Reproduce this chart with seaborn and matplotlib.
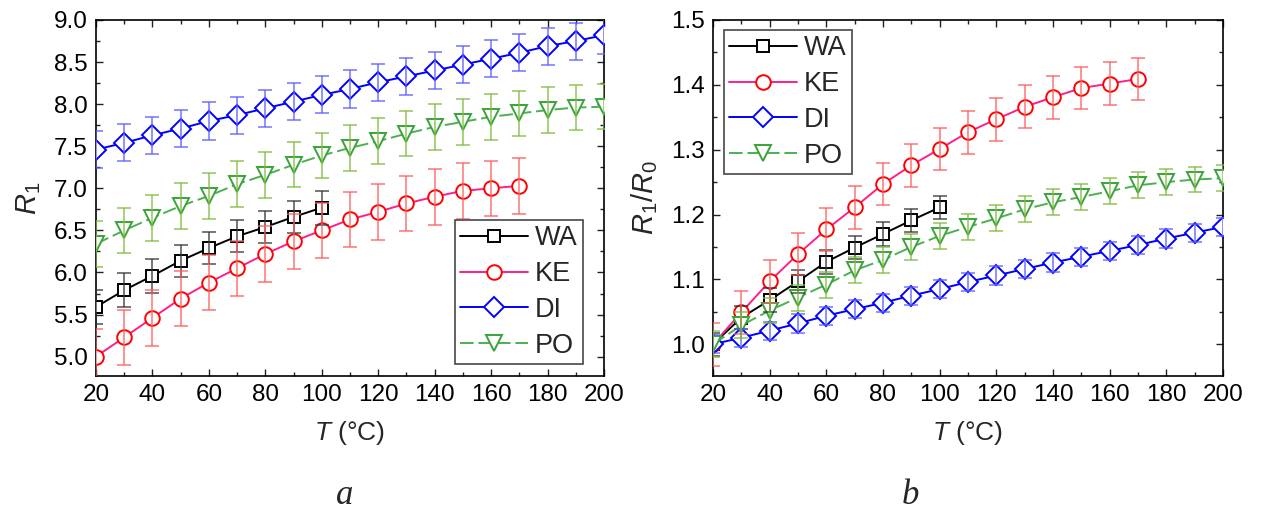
import numpy as np
import pandas as pd
import matplotlib
matplotlib.use("Agg")
import matplotlib.pyplot as plt
from matplotlib.ticker import MultipleLocator, FormatStrFormatter
import seaborn as sns

# ---------------- data ----------------
T_WA = [20, 30, 40, 50, 60, 70, 80, 90, 100]
T_KE = [20, 30, 40, 50, 60, 70, 80, 90, 100, 110, 120, 130, 140, 150, 160, 170]
T_DI = [20, 30, 40, 50, 60, 70, 80, 90, 100, 110, 120, 130, 140, 150, 160, 170, 180, 190, 200]
T_PO = [20, 30, 40, 50, 60, 70, 80, 90, 100, 110, 120, 130, 140, 150, 160, 170, 180, 190, 200]

# panel a: R1
R1_WA = [5.59, 5.79, 5.96, 6.14, 6.29, 6.43, 6.54, 6.66, 6.77]
R1_KE = [5.00, 5.23, 5.46, 5.69, 5.88, 6.05, 6.22, 6.37, 6.50, 6.63, 6.72, 6.82, 6.90, 6.97, 7.00, 7.03]
R1_DI = [7.46, 7.54, 7.63, 7.71, 7.80, 7.87, 7.95, 8.03, 8.11, 8.18, 8.26, 8.33, 8.40, 8.47, 8.54, 8.61, 8.69, 8.75, 8.82]
R1_PO = [6.34, 6.50, 6.65, 6.79, 6.91, 7.05, 7.16, 7.28, 7.39, 7.48, 7.56, 7.65, 7.73, 7.79, 7.85, 7.89, 7.93, 7.96, 7.97]
E1_WA = [0.20, 0.20, 0.20, 0.19, 0.19, 0.19, 0.19, 0.19, 0.20]
E1_KE = [0.33, 0.33, 0.33, 0.33, 0.33, 0.33, 0.33, 0.33, 0.33, 0.33, 0.33, 0.33, 0.33, 0.33, 0.33, 0.33]
E1_DI = [0.22, 0.22, 0.22, 0.22, 0.22, 0.22, 0.22, 0.22, 0.22, 0.22, 0.22, 0.22, 0.22, 0.22, 0.22, 0.22, 0.22, 0.22, 0.22]
E1_PO = [0.27, 0.27, 0.27, 0.27, 0.27, 0.27, 0.27, 0.27, 0.27, 0.27, 0.27, 0.27, 0.27, 0.27, 0.27, 0.27, 0.27, 0.27, 0.27]

# panel b: R1/R0
RR_WA = [1.000, 1.041, 1.068, 1.097, 1.127, 1.149, 1.170, 1.191, 1.211]
RR_KE = [1.000, 1.049, 1.097, 1.139, 1.177, 1.211, 1.247, 1.276, 1.301, 1.327, 1.347, 1.366, 1.381, 1.395, 1.402, 1.409]
RR_DI = [1.000, 1.010, 1.021, 1.032, 1.044, 1.054, 1.064, 1.075, 1.085, 1.096, 1.106, 1.116, 1.126, 1.135, 1.144, 1.153, 1.163, 1.172, 1.181]
RR_PO = [1.000, 1.029, 1.052, 1.072, 1.092, 1.114, 1.130, 1.150, 1.167, 1.181, 1.194, 1.208, 1.219, 1.227, 1.236, 1.245, 1.250, 1.254, 1.256]
E2_WA = [0.018, 0.018, 0.018, 0.018, 0.018, 0.018, 0.018, 0.018, 0.018]
E2_KE = [0.033, 0.033, 0.033, 0.033, 0.033, 0.033, 0.033, 0.033, 0.033, 0.033, 0.033, 0.033, 0.033, 0.033, 0.033, 0.033]
E2_DI = [0.014, 0.014, 0.014, 0.014, 0.014, 0.014, 0.014, 0.014, 0.014, 0.014, 0.014, 0.014, 0.014, 0.014, 0.014, 0.014, 0.014, 0.014, 0.014]
E2_PO = [0.020, 0.020, 0.020, 0.020, 0.020, 0.020, 0.020, 0.020, 0.020, 0.020, 0.020, 0.020, 0.020, 0.020, 0.020, 0.020, 0.020, 0.020, 0.020]

labels = ["WA", "KE", "DI", "PO"]
x_ticks = [20, 40, 60, 80, 100, 120, 140, 160, 180, 200]

# ---------------- style ----------------
sns.set_theme(style="ticks")
plt.rcParams["font.family"] = ["Liberation Sans", "DejaVu Sans"]
plt.rcParams["mathtext.fontset"] = "custom"
plt.rcParams["mathtext.rm"] = "Liberation Sans"
plt.rcParams["mathtext.it"] = "Liberation Sans:italic"
plt.rcParams["mathtext.bf"] = "Liberation Sans:bold"

styles = {
    "WA": dict(line="#000000", edge="#000000", err="#333333", marker="s", ms=9, ls="-"),
    "KE": dict(line="#ff1f8a", edge="#ff0000", err="#ff5c5c", marker="o", ms=10.5, ls="-"),
    "DI": dict(line="#0000ff", edge="#0000ff", err="#5c5cff", marker="D", ms=9.8, ls="-"),
    "PO": dict(line="#4cb050", edge="#3aa33a", err="#7dbb3c", marker="v", ms=11.5, ls=(0, (7, 2.5))),
}

fig = plt.figure(figsize=(12.65, 5.13), dpi=100)
axA = fig.add_axes([96 / 1265, 1 - 376 / 513, 508 / 1265, 356 / 513])
axB = fig.add_axes([713 / 1265, 1 - 376 / 513, 510 / 1265, 356 / 513])


def draw(ax, series):
    for name, (xs, ys, es) in zip(labels, series):
        st = styles[name]
        df = pd.DataFrame({"T": xs, "v": ys})
        sns.lineplot(data=df, x="T", y="v", ax=ax, color=st["line"], linewidth=1.4,
                     linestyle=st["ls"], marker=st["marker"], markersize=st["ms"],
                     markerfacecolor="white", markeredgecolor=st["edge"],
                     markeredgewidth=1.4, label=name, zorder=3)
        ax.errorbar(xs, ys, yerr=es, fmt="none", ecolor=st["err"], elinewidth=1.1,
                    capsize=5, capthick=1.1, alpha=0.85, zorder=4)


draw(axA, [(T_WA, R1_WA, E1_WA), (T_KE, R1_KE, E1_KE), (T_DI, R1_DI, E1_DI), (T_PO, R1_PO, E1_PO)])
draw(axB, [(T_WA, RR_WA, E2_WA), (T_KE, RR_KE, E2_KE), (T_DI, RR_DI, E2_DI), (T_PO, RR_PO, E2_PO)])

axA.set_xlim(20, 200)
axA.set_ylim(4.77, 9.0)
axA.yaxis.set_major_locator(MultipleLocator(0.5))
axA.yaxis.set_minor_locator(MultipleLocator(0.25))
axA.yaxis.set_major_formatter(FormatStrFormatter("%.1f"))

axB.set_xlim(20, 200)
axB.set_ylim(0.951, 1.5)
axB.yaxis.set_major_locator(MultipleLocator(0.1))
axB.yaxis.set_minor_locator(MultipleLocator(0.05))
axB.yaxis.set_major_formatter(FormatStrFormatter("%.1f"))

for ax in (axA, axB):
    ax.set_xticks(x_ticks)
    ax.xaxis.set_minor_locator(MultipleLocator(10))
    ax.tick_params(which="both", direction="in", top=True, right=True, width=1.0,
                   colors="#222222", labelcolor="black", labelsize=17.5)
    ax.tick_params(which="major", length=5, pad=6)
    ax.tick_params(which="minor", length=3)
    for sp in ax.spines.values():
        sp.set_linewidth(1.2)
        sp.set_color("black")
        sp.set_visible(True)
    ax.set_xlabel(r"$T$ (°C)", fontsize=19, labelpad=9)
    ax.grid(False)

axA.set_ylabel(r"$R_1$", fontsize=21, labelpad=8)
axB.set_ylabel(r"$R_1/R_0$", fontsize=21, labelpad=8)

leg_kw = dict(fontsize=19.5, frameon=True, fancybox=False, framealpha=1, edgecolor="#555555",
              handlelength=2.5, handletextpad=0.25, labelspacing=0.36, borderpad=0.2,
              borderaxespad=0)
legA = axA.legend(loc="lower right", bbox_to_anchor=(0.9587, 0.0337), **leg_kw)
legB = axB.legend(loc="upper left", bbox_to_anchor=(0.0216, 0.972), **leg_kw)
for leg in (legA, legB):
    leg.get_frame().set_linewidth(1.3)

fig.text(345 / 1265, 1 - 496 / 513, "a", fontsize=25, family="Liberation Serif",
         style="italic", ha="center", va="center")
fig.text(910 / 1265, 1 - 496 / 513, "b", fontsize=25, family="Liberation Serif",
         style="italic", ha="center", va="center")

fig.savefig("out.png", dpi=100, facecolor="white")
